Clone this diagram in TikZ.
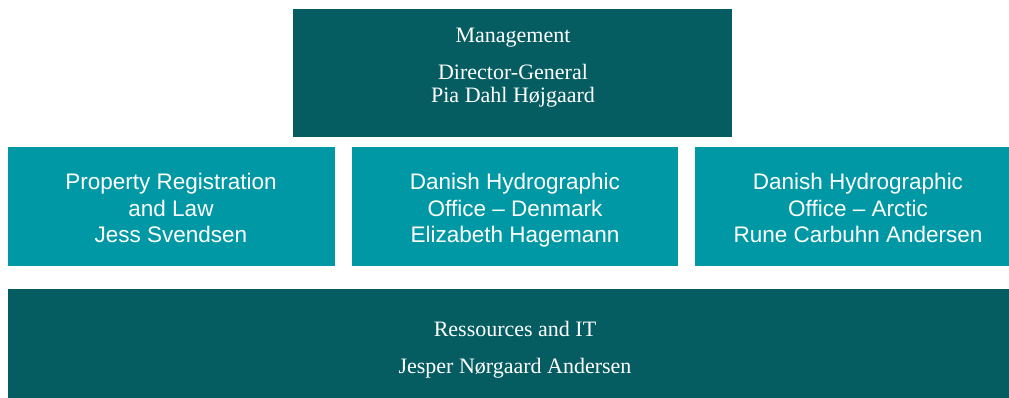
\documentclass[tikz,border=0pt]{standalone}
\usepackage{fontspec}
\setmainfont{Liberation Serif}
\newfontfamily\sansfont{Liberation Sans}
\usepackage{xcolor}
\definecolor{tealdark}{HTML}{055D62}
\definecolor{teallight}{HTML}{0198A6}
\tikzset{
    darkbox/.style={fill=tealdark, inner sep=0pt, anchor=north west},
    lightbox/.style={fill=teallight, inner sep=0pt, anchor=north west,
        minimum height=119pt},
    seriflabel/.style={text=white, align=center, anchor=base,
        font=\fontsize{22}{23}\selectfont},
    sanslabel/.style={text=white, align=center, anchor=base,
        font=\sansfont\fontsize{22.5}{27}\selectfont}
}

\begin{document}
\begin{tikzpicture}[x=1pt,y=-1pt]
		\useasboundingbox (0,0) rectangle (1009,398);

		% management
		\node[darkbox, minimum width=439pt, minimum height=128pt] (mgmt) at (293,9) {};
	    \node[seriflabel] (mgmtlbl) at (513,103) {Management\\[14pt]Director-General\\Pia Dahl Højgaard};

		% departments (last line sits on the given base)
		\node[lightbox, minimum width=327pt] (prop) at (8,147) {};
	    \node[sanslabel] (proplbl) at (171,243) {Property Registration\\and Law\\Jess Svendsen};

		\node[lightbox, minimum width=326pt] (dhodk) at (352,147) {};
	    \node[sanslabel] (dhodklbl) at (515,243) {Danish Hydrographic\\Office – Denmark\\Elizabeth Hagemann};

		\node[lightbox, minimum width=314pt] (dhoarc) at (695,147) {};
	    \node[sanslabel] (dhoarclbl) at (858,243) {Danish Hydrographic\\Office – Arctic\\Rune Carbuhn Andersen};

		% ressources
		\node[darkbox, minimum width=1001pt, minimum height=109pt] (res) at (8,289) {};
	    \node[seriflabel] (reslbl) at (515,373) {Ressources and IT\\[14pt]Jesper Nørgaard Andersen};
\end{tikzpicture}
\end{document}
